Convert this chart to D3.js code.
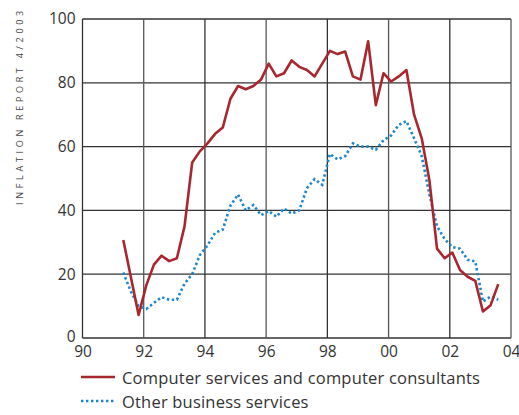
<!DOCTYPE html>
<html>
<head>
<meta charset="utf-8">
<script src="https://cdn.jsdelivr.net/npm/d3@7"></script>
<style>
  body { margin: 0; background: #fff; }
  svg { display: block; font-family: "Open Sans", sans-serif; }
</style>
</head>
<body>
<div class="grafico"></div>
<script>
// quarterly observations, 1991Q2 - 2003Q3
const trimestres = [
  "1991Q2","1991Q3","1991Q4",
  "1992Q1","1992Q2","1992Q3","1992Q4",
  "1993Q1","1993Q2","1993Q3","1993Q4",
  "1994Q1","1994Q2","1994Q3","1994Q4",
  "1995Q1","1995Q2","1995Q3","1995Q4",
  "1996Q1","1996Q2","1996Q3","1996Q4",
  "1997Q1","1997Q2","1997Q3","1997Q4",
  "1998Q1","1998Q2","1998Q3","1998Q4",
  "1999Q1","1999Q2","1999Q3","1999Q4",
  "2000Q1","2000Q2","2000Q3","2000Q4",
  "2001Q1","2001Q2","2001Q3","2001Q4",
  "2002Q1","2002Q2","2002Q3","2002Q4",
  "2003Q1","2003Q2","2003Q3"
];

const computer = [30.7, 19, 7.2, 16.5, 23, 25.8, 24.1, 25, 35, 55,
  58.5, 61, 64, 66, 75, 79, 78, 79, 81, 86,
  82, 83, 87, 85, 84, 82, 86, 90, 89, 89.8,
  82, 81, 93, 73, 83, 80.4, 82, 84, 70, 62.6,
  49.5, 28, 25, 26.8, 21.3, 19.2, 17.9, 8.3, 10.3, 16.9];

const otros = [20.5, 14.5, 10, 9.1, 11, 12.8, 12, 12, 17, 20,
  26, 29, 33, 34, 41.5, 45, 40, 41.7, 38.5, 39.8,
  38, 40.6, 39, 40, 47, 49.8, 48, 57.7, 56, 57,
  61, 60, 60, 59, 62, 63.5, 66.8, 68, 62.6, 57,
  45, 35, 31, 28.5, 28, 24.5, 24, 11.4, 13, 12];

const xTicks = [1990, 1992, 1994, 1996, 1998, 2000, 2002, 2004];
const xTickLabels = ["90", "92", "94", "96", "98", "00", "02", "04"];
const yTicks = [0, 20, 40, 60, 80, 100];

const serieNombres = ["Computer services and computer consultants", "Other business services"];
const sideLabel = "INFLATION REPORT 4/2003";

var width = 519, height = 415;
var margin = { top: 19, right: 8, bottom: 77, left: 82.5 };

var svg = d3.select(".grafico").append("svg")
  .attr("width", width)
  .attr("height", height);

// quarter string -> decimal year (plotted one month into the quarter)
function tiempo(q) {
  var y = +q.slice(0, 4), n = +q.slice(5);
  return y + (n - 1) / 4 + 1 / 12;
}

var xScale = d3.scaleLinear().domain([1990, 2004]).range([margin.left, width - margin.right]);
var yScale = d3.scaleLinear().domain([0, 100]).range([height - margin.bottom, margin.top]);

// grid
svg.append("g").selectAll("line").data(yTicks).join("line")
  .attr("x1", xScale(1990)).attr("x2", xScale(2004))
  .attr("y1", d => yScale(d)).attr("y2", d => yScale(d))
  .attr("stroke", "#333").attr("stroke-width", 1.3);

svg.append("g").selectAll("line").data(xTicks).join("line")
  .attr("x1", d => xScale(d)).attr("x2", d => xScale(d))
  .attr("y1", yScale(0)).attr("y2", yScale(100))
  .attr("stroke", (d, i) => (i % 2 ? "#555" : "#333"))
  .attr("stroke-width", 1.3);

// axes (labels only)
var xAxis = svg.append("g")
  .attr("transform", "translate(0," + yScale(0) + ")")
  .call(d3.axisBottom(xScale).tickValues(xTicks).tickFormat((d, i) => xTickLabels[i]).tickSize(0).tickPadding(8));
xAxis.select(".domain").remove();
xAxis.selectAll("text").attr("font-size", 15.5).attr("fill", "#333").attr("font-family", "Open Sans");

var yAxis = svg.append("g")
  .attr("transform", "translate(" + xScale(1990) + ",0)")
  .call(d3.axisLeft(yScale).tickValues(yTicks).tickSize(0).tickPadding(7));
yAxis.select(".domain").remove();
yAxis.selectAll("text").attr("font-size", 15.5).attr("fill", "#333").attr("font-family", "Open Sans");
yAxis.selectAll(".tick").filter(d => d === 0).select("text").attr("dy", "0.2em");

var line = d3.line()
  .x((d, i) => xScale(tiempo(trimestres[i])))
  .y(d => yScale(d));

svg.append("path")
  .datum(otros)
  .attr("fill", "none")
  .attr("stroke", "#1b86c9")
  .attr("stroke-width", 2.6)
  .attr("stroke-dasharray", "2.4,2.6")
  .attr("d", line);

svg.append("path")
  .datum(computer)
  .attr("fill", "none")
  .attr("stroke", "#a8272f")
  .attr("stroke-width", 2.6)
  .attr("stroke-linejoin", "round")
  .attr("d", line);

// legend
var leyenda = svg.append("g");
var estilos = [
  { color: "#a8272f", dash: null, y: 377 },
  { color: "#1b86c9", dash: "2.4,2.6", y: 401 }
];
serieNombres.forEach(function (nombre, i) {
  leyenda.append("line")
    .attr("x1", 81).attr("x2", 115)
    .attr("y1", estilos[i].y).attr("y2", estilos[i].y)
    .attr("stroke", estilos[i].color)
    .attr("stroke-width", 2.6)
    .attr("stroke-dasharray", estilos[i].dash);
  leyenda.append("text")
    .attr("x", 122).attr("y", estilos[i].y + 6.5)
    .attr("font-size", 16.5)
    .attr("letter-spacing", 0.2)
    .attr("fill", "#333")
    .text(nombre);
});

// side label
svg.append("text")
  .attr("transform", "translate(23,106) rotate(-90)")
  .attr("text-anchor", "middle")
  .attr("font-size", 9)
  .attr("letter-spacing", 3.7)
  .attr("fill", "#444")
  .text(sideLabel);
</script>
</body>
</html>
